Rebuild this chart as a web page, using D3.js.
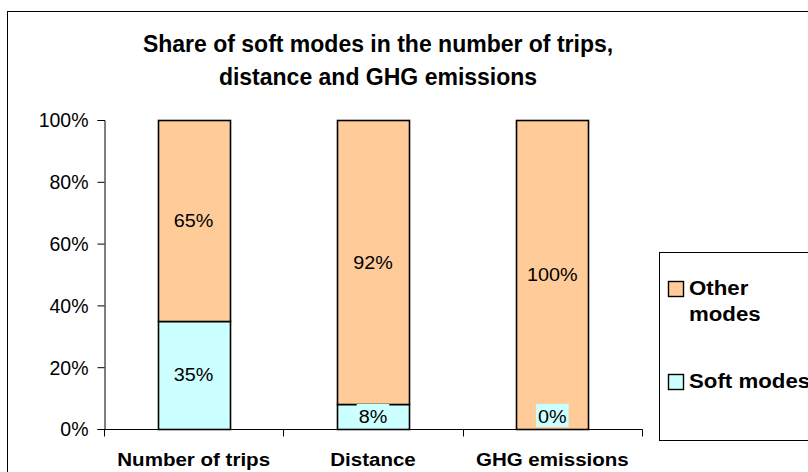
<!DOCTYPE html>
<html><head><meta charset="utf-8">
<script src="https://cdn.jsdelivr.net/npm/d3@7"></script>
<style>body{margin:0;background:#fff;}svg{display:block;font-family:"Liberation Sans",Arial,sans-serif;}</style>
</head><body>
<script>
const categories = ["Number of trips", "Distance", "GHG emissions"];
const softModes = [35, 8, 0];
const otherModes = [65, 92, 100];
const seriesNames = ["Soft modes", "Other modes"];
const yTicks = [0, 20, 40, 60, 80, 100];
const colors = {"Soft modes": "#CCFFFF", "Other modes": "#FFCC99"};

const W = 808, H = 472;
const svg = d3.select("body").append("svg").attr("width", W).attr("height", H);

// helper: text with horizontal stretch
function stext(g, x, y, str, size, sx, opts = {}) {
  const t = g.append("text")
    .attr("transform", `translate(${x},${y}) scale(${sx},1)`)
    .attr("font-size", size).attr("fill", "#000")
    .attr("text-anchor", opts.anchor || "start")
    .attr("font-weight", opts.bold ? "bold" : "normal")
    .text(str);
  return t;
}

// outer chart frame
svg.append("rect").attr("x", 7.5).attr("y", 11.5).attr("width", W + 10).attr("height", H + 10)
  .attr("fill", "none").attr("stroke", "#000").attr("stroke-width", 1);

// title
stext(svg, 378, 52, "Share of soft modes in the number of trips,", 23, 1, {anchor: "middle", bold: true});
stext(svg, 378, 85, "distance and GHG emissions", 23, 1, {anchor: "middle", bold: true});

const plot = {left: 104, right: 642, top: 120, bottom: 429};
const x = d3.scaleBand().domain(categories).range([plot.left, plot.right]).paddingInner(0).paddingOuter(0);
const y = d3.scaleLinear().domain([0, 100]).range([plot.bottom, plot.top]);
const barW = 72;

const data = categories.map((c, i) => ({cat: c, "Soft modes": softModes[i], "Other modes": otherModes[i]}));
const stack = d3.stack().keys(seriesNames)(data);

// axes
const yAxis = d3.axisLeft(y).tickValues(yTicks).tickFormat(d => d + "%").tickSize(7).tickPadding(9);
const gy = svg.append("g").attr("transform", `translate(${plot.left + 0.5},0)`).call(yAxis);
gy.select(".domain").attr("stroke", "#000");
gy.selectAll(".tick line").attr("stroke", "#000");
gy.selectAll(".tick text").attr("font-size", 19.5).attr("fill", "#000")
  .attr("font-family", "Liberation Sans, Arial, sans-serif").attr("dy", "0.35em");

const gx = svg.append("g").attr("transform", `translate(0,${plot.bottom + 0.5})`);
gx.append("line").attr("x1", plot.left).attr("x2", plot.right + 0.5).attr("stroke", "#000");
const bounds = categories.map(c => x(c) + x.bandwidth()).concat([plot.left]);
gx.selectAll(".tk").data(bounds).join("line").attr("x1", d => Math.round(d) + 0.5).attr("x2", d => Math.round(d) + 0.5)
  .attr("y1", 0).attr("y2", 7).attr("stroke", "#000");
categories.forEach(c => {
  stext(gx, x(c) + x.bandwidth() / 2, 36, c, 18.5, 1.11, {anchor: "middle", bold: true});
});

// bars
stack.forEach(s => {
  const g = svg.append("g");
  g.selectAll("rect").data(s).join("rect")
    .attr("x", d => Math.round(x(d.data.cat) + x.bandwidth() / 2 - barW / 2) + 0.5)
    .attr("y", d => Math.round(y(d[1])) + 0.5)
    .attr("width", barW)
    .attr("height", d => Math.round(y(d[0])) - Math.round(y(d[1])))
    .attr("fill", colors[s.key]).attr("stroke", "#000").attr("stroke-width", 1.6);
});

// labels with background in series colour
stack.forEach(s => {
  s.forEach(d => {
    const cx = x(d.data.cat) + x.bandwidth() / 2;
    let cy = y((d[0] + d[1]) / 2);
    cy = Math.min(cy, plot.bottom - 13);
    const txt = (d[1] - d[0]) + "%";
    const g = svg.append("g");
    const t = stext(g, cx, cy + 6.5, txt, 18.5, 1.07, {anchor: "middle"});
    const bb = t.node().getBBox();
    const w = bb.width * 1.07 + 4;
    g.insert("rect", "text").attr("x", cx - w / 2).attr("y", cy - 12).attr("width", w).attr("height", 23)
      .attr("fill", colors[s.key]);
  });
});

// legend
const lg = svg.append("g");
lg.append("rect").attr("x", 659.5).attr("y", 252.5).attr("width", 170).attr("height", 188)
  .attr("fill", "#fff").attr("stroke", "#000");
const legendItems = [
  {name: "Other modes", lines: ["Other", "modes"], y: 289},
  {name: "Soft modes", lines: ["Soft modes"], y: 382}
];
legendItems.forEach(it => {
  lg.append("rect").attr("x", 668.5).attr("y", it.y - 7.5).attr("width", 15).attr("height", 15)
    .attr("fill", colors[it.name]).attr("stroke", "#000").attr("stroke-width", 1.4);
  it.lines.forEach((l, i) => stext(lg, 689, it.y + 6 + i * 26, l, 21, 1.06, {bold: true}));
});
</script>
</body></html>
